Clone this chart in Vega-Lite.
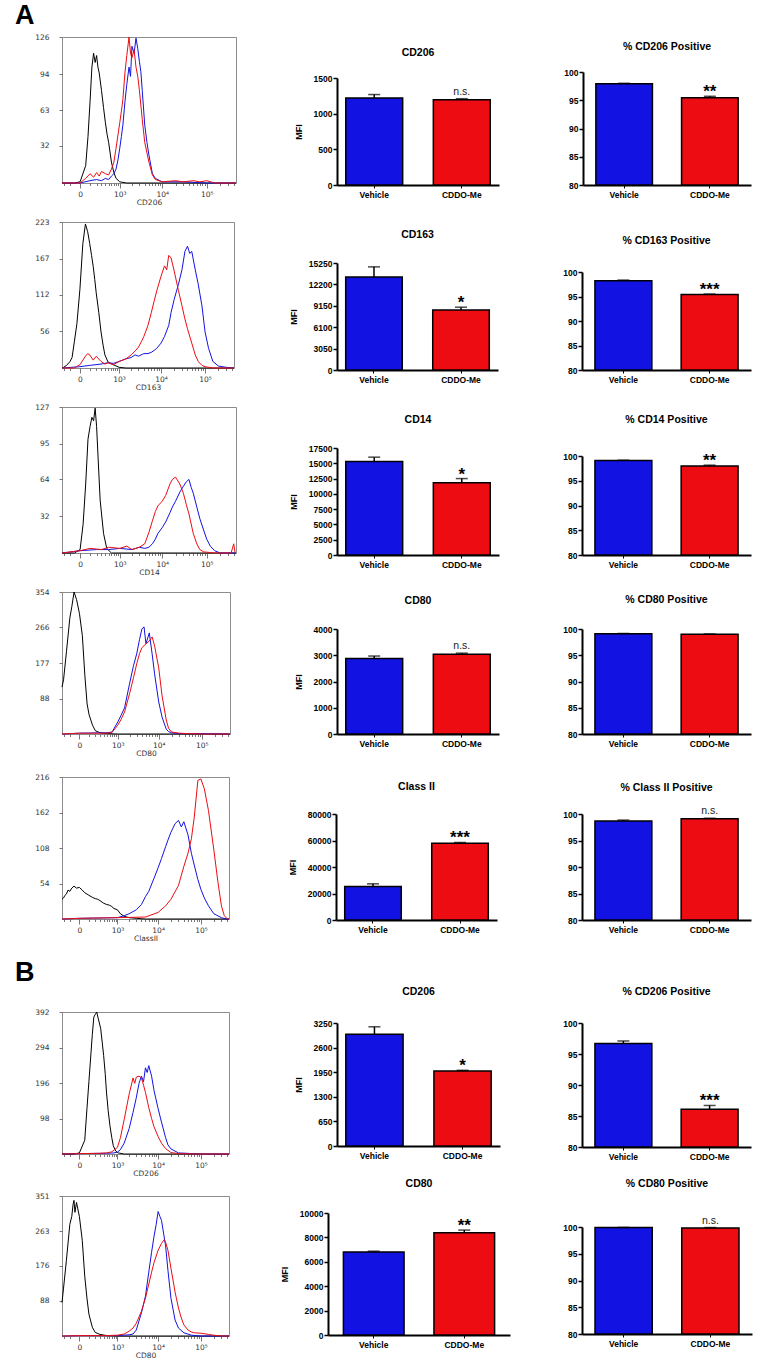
{
"$schema": "https://vega.github.io/schema/vega-lite/v6.json",
"padding": {"left": 15, "top": 1, "right": 5, "bottom": 5},
"background": "white",
"config": {
  "view": {"stroke": null},
  "font": "Liberation Sans",
  "title": {"font": "Liberation Sans", "fontSize": 10.5, "fontWeight": "bold", "color": "black"},
  "axis": {"grid": false, "domainColor": "black", "domainWidth": 2, "tickColor": "black", "tickWidth": 1.5, "tickSize": 4, "labelFont": "Liberation Sans", "labelFontWeight": "bold", "labelFontSize": 8.5, "labelColor": "black", "labelPadding": 1, "titleFont": "Liberation Sans", "titleFontWeight": "bold", "titleFontSize": 9, "titleColor": "black"},
  "line": {"strokeWidth": 1, "clip": true},
  "bar": {"stroke": "black", "strokeWidth": 1.5},
  "rule": {"color": "black", "strokeWidth": 1.5},
  "tick": {"color": "black", "thickness": 1.5}
},
"datasets": {
"bars": [
{"panel":"A_CD206_MFI","group":"Vehicle","value":1220,"upper":1268,"sig":""},
{"panel":"A_CD206_MFI","group":"CDDO-Me","value":1196,"upper":1210,"sig":"n.s."},
{"panel":"A_CD206_PCT","group":"Vehicle","value":97.9,"upper":98.0,"sig":""},
{"panel":"A_CD206_PCT","group":"CDDO-Me","value":95.45,"upper":95.7,"sig":"**"},
{"panel":"A_CD163_MFI","group":"Vehicle","value":13250,"upper":14700,"sig":""},
{"panel":"A_CD163_MFI","group":"CDDO-Me","value":8550,"upper":8950,"sig":"*"},
{"panel":"A_CD163_PCT","group":"Vehicle","value":98.2,"upper":98.35,"sig":""},
{"panel":"A_CD163_PCT","group":"CDDO-Me","value":95.4,"upper":95.5,"sig":"***"},
{"panel":"A_CD14_MFI","group":"Vehicle","value":15300,"upper":16000,"sig":""},
{"panel":"A_CD14_MFI","group":"CDDO-Me","value":11800,"upper":12500,"sig":"*"},
{"panel":"A_CD14_PCT","group":"Vehicle","value":99.1,"upper":99.15,"sig":""},
{"panel":"A_CD14_PCT","group":"CDDO-Me","value":98.0,"upper":98.15,"sig":"**"},
{"panel":"A_CD80_MFI","group":"Vehicle","value":2880,"upper":2970,"sig":""},
{"panel":"A_CD80_MFI","group":"CDDO-Me","value":3040,"upper":3080,"sig":"n.s."},
{"panel":"A_CD80_PCT","group":"Vehicle","value":99.1,"upper":99.15,"sig":""},
{"panel":"A_CD80_PCT","group":"CDDO-Me","value":99.0,"upper":99.05,"sig":""},
{"panel":"A_ClassII_MFI","group":"Vehicle","value":25300,"upper":27300,"sig":""},
{"panel":"A_ClassII_MFI","group":"CDDO-Me","value":58000,"upper":58500,"sig":"***"},
{"panel":"A_ClassII_PCT","group":"Vehicle","value":98.7,"upper":98.85,"sig":""},
{"panel":"A_ClassII_PCT","group":"CDDO-Me","value":99.1,"upper":99.2,"sig":"n.s."},
{"panel":"B_CD206_MFI","group":"Vehicle","value":2950,"upper":3150,"sig":""},
{"panel":"B_CD206_MFI","group":"CDDO-Me","value":1980,"upper":2000,"sig":"*"},
{"panel":"B_CD206_PCT","group":"Vehicle","value":96.7,"upper":97.1,"sig":""},
{"panel":"B_CD206_PCT","group":"CDDO-Me","value":86.1,"upper":86.7,"sig":"***"},
{"panel":"B_CD80_MFI","group":"Vehicle","value":6800,"upper":6870,"sig":""},
{"panel":"B_CD80_MFI","group":"CDDO-Me","value":8380,"upper":8600,"sig":"**"},
{"panel":"B_CD80_PCT","group":"Vehicle","value":99.9,"upper":99.92,"sig":""},
{"panel":"B_CD80_PCT","group":"CDDO-Me","value":99.8,"upper":99.9,"sig":"n.s."}
],
"h1": [
{"series":"Isotype","fluor":-230,"count":0},{"series":"Isotype","fluor":-50,"count":0},{"series":"Isotype","fluor":0,"count":1},{"series":"Isotype","fluor":50,"count":15},{"series":"Isotype","fluor":75,"count":40},{"series":"Isotype","fluor":100,"count":70},{"series":"Isotype","fluor":125,"count":100},{"series":"Isotype","fluor":150,"count":112},{"series":"Isotype","fluor":175,"count":104},{"series":"Isotype","fluor":200,"count":110},{"series":"Isotype","fluor":225,"count":100},{"series":"Isotype","fluor":250,"count":95},{"series":"Isotype","fluor":300,"count":80},{"series":"Isotype","fluor":350,"count":65},{"series":"Isotype","fluor":400,"count":52},{"series":"Isotype","fluor":450,"count":42},{"series":"Isotype","fluor":500,"count":35},{"series":"Isotype","fluor":600,"count":18},{"series":"Isotype","fluor":700,"count":9},{"series":"Isotype","fluor":800,"count":4},{"series":"Isotype","fluor":1000,"count":1},{"series":"Isotype","fluor":1500,"count":0},{"series":"Isotype","fluor":450000,"count":0},
{"series":"Vehicle","fluor":-230,"count":0},{"series":"Vehicle","fluor":0,"count":0},{"series":"Vehicle","fluor":100,"count":2},{"series":"Vehicle","fluor":200,"count":3},{"series":"Vehicle","fluor":300,"count":2},{"series":"Vehicle","fluor":400,"count":4},{"series":"Vehicle","fluor":500,"count":3},{"series":"Vehicle","fluor":600,"count":6},{"series":"Vehicle","fluor":700,"count":8},{"series":"Vehicle","fluor":800,"count":12},{"series":"Vehicle","fluor":900,"count":20},{"series":"Vehicle","fluor":1000,"count":30},{"series":"Vehicle","fluor":1100,"count":40},{"series":"Vehicle","fluor":1200,"count":50},{"series":"Vehicle","fluor":1350,"count":70},{"series":"Vehicle","fluor":1500,"count":85},{"series":"Vehicle","fluor":1700,"count":100},{"series":"Vehicle","fluor":1850,"count":92},{"series":"Vehicle","fluor":2000,"count":118},{"series":"Vehicle","fluor":2250,"count":112},{"series":"Vehicle","fluor":2500,"count":125},{"series":"Vehicle","fluor":2750,"count":116},{"series":"Vehicle","fluor":3000,"count":105},{"series":"Vehicle","fluor":3250,"count":96},{"series":"Vehicle","fluor":3500,"count":80},{"series":"Vehicle","fluor":4000,"count":50},{"series":"Vehicle","fluor":4500,"count":35},{"series":"Vehicle","fluor":5000,"count":24},{"series":"Vehicle","fluor":6000,"count":8},{"series":"Vehicle","fluor":7000,"count":4},{"series":"Vehicle","fluor":10000,"count":1},{"series":"Vehicle","fluor":30000,"count":1},{"series":"Vehicle","fluor":100000,"count":0},{"series":"Vehicle","fluor":450000,"count":0},
{"series":"CDDO-Me","fluor":-230,"count":0},{"series":"CDDO-Me","fluor":0,"count":0},{"series":"CDDO-Me","fluor":50,"count":4},{"series":"CDDO-Me","fluor":100,"count":8},{"series":"CDDO-Me","fluor":150,"count":5},{"series":"CDDO-Me","fluor":200,"count":9},{"series":"CDDO-Me","fluor":250,"count":6},{"series":"CDDO-Me","fluor":300,"count":10},{"series":"CDDO-Me","fluor":400,"count":8},{"series":"CDDO-Me","fluor":500,"count":7},{"series":"CDDO-Me","fluor":600,"count":12},{"series":"CDDO-Me","fluor":700,"count":18},{"series":"CDDO-Me","fluor":800,"count":30},{"series":"CDDO-Me","fluor":1000,"count":52},{"series":"CDDO-Me","fluor":1100,"count":62},{"series":"CDDO-Me","fluor":1200,"count":72},{"series":"CDDO-Me","fluor":1350,"count":95},{"series":"CDDO-Me","fluor":1500,"count":110},{"series":"CDDO-Me","fluor":1700,"count":126},{"series":"CDDO-Me","fluor":1850,"count":112},{"series":"CDDO-Me","fluor":2000,"count":108},{"series":"CDDO-Me","fluor":2250,"count":115},{"series":"CDDO-Me","fluor":2500,"count":100},{"series":"CDDO-Me","fluor":2750,"count":92},{"series":"CDDO-Me","fluor":3000,"count":80},{"series":"CDDO-Me","fluor":3500,"count":55},{"series":"CDDO-Me","fluor":4000,"count":35},{"series":"CDDO-Me","fluor":5000,"count":18},{"series":"CDDO-Me","fluor":6000,"count":7},{"series":"CDDO-Me","fluor":7000,"count":3},{"series":"CDDO-Me","fluor":10000,"count":1},{"series":"CDDO-Me","fluor":20000,"count":2},{"series":"CDDO-Me","fluor":30000,"count":1},{"series":"CDDO-Me","fluor":50000,"count":2},{"series":"CDDO-Me","fluor":70000,"count":1},{"series":"CDDO-Me","fluor":100000,"count":2},{"series":"CDDO-Me","fluor":150000,"count":0},{"series":"CDDO-Me","fluor":450000,"count":0}
],
"h2": [
{"series":"Isotype","fluor":-230,"count":0},{"series":"Isotype","fluor":-200,"count":1},{"series":"Isotype","fluor":-150,"count":4},{"series":"Isotype","fluor":-100,"count":10},{"series":"Isotype","fluor":-75,"count":16},{"series":"Isotype","fluor":-50,"count":40},{"series":"Isotype","fluor":-25,"count":68},{"series":"Isotype","fluor":0,"count":120},{"series":"Isotype","fluor":25,"count":190},{"series":"Isotype","fluor":50,"count":220},{"series":"Isotype","fluor":75,"count":208},{"series":"Isotype","fluor":100,"count":190},{"series":"Isotype","fluor":125,"count":172},{"series":"Isotype","fluor":150,"count":155},{"series":"Isotype","fluor":175,"count":135},{"series":"Isotype","fluor":200,"count":115},{"series":"Isotype","fluor":250,"count":85},{"series":"Isotype","fluor":300,"count":55},{"series":"Isotype","fluor":350,"count":35},{"series":"Isotype","fluor":400,"count":20},{"series":"Isotype","fluor":500,"count":9},{"series":"Isotype","fluor":700,"count":5},{"series":"Isotype","fluor":1000,"count":1},{"series":"Isotype","fluor":1500,"count":0},{"series":"Isotype","fluor":450000,"count":0},
{"series":"Vehicle","fluor":-230,"count":0},{"series":"Vehicle","fluor":0,"count":2},{"series":"Vehicle","fluor":100,"count":4},{"series":"Vehicle","fluor":300,"count":6},{"series":"Vehicle","fluor":500,"count":8},{"series":"Vehicle","fluor":700,"count":7},{"series":"Vehicle","fluor":1000,"count":10},{"series":"Vehicle","fluor":1500,"count":14},{"series":"Vehicle","fluor":2000,"count":16},{"series":"Vehicle","fluor":2500,"count":20},{"series":"Vehicle","fluor":3000,"count":18},{"series":"Vehicle","fluor":4000,"count":22},{"series":"Vehicle","fluor":5000,"count":22},{"series":"Vehicle","fluor":6000,"count":24},{"series":"Vehicle","fluor":7000,"count":27},{"series":"Vehicle","fluor":8000,"count":30},{"series":"Vehicle","fluor":10000,"count":38},{"series":"Vehicle","fluor":12000,"count":48},{"series":"Vehicle","fluor":15000,"count":65},{"series":"Vehicle","fluor":17000,"count":85},{"series":"Vehicle","fluor":20000,"count":105},{"series":"Vehicle","fluor":25000,"count":128},{"series":"Vehicle","fluor":30000,"count":150},{"series":"Vehicle","fluor":35000,"count":178},{"series":"Vehicle","fluor":40000,"count":186},{"series":"Vehicle","fluor":45000,"count":175},{"series":"Vehicle","fluor":50000,"count":178},{"series":"Vehicle","fluor":60000,"count":150},{"series":"Vehicle","fluor":70000,"count":128},{"series":"Vehicle","fluor":85000,"count":95},{"series":"Vehicle","fluor":100000,"count":55},{"series":"Vehicle","fluor":120000,"count":30},{"series":"Vehicle","fluor":150000,"count":10},{"series":"Vehicle","fluor":200000,"count":3},{"series":"Vehicle","fluor":300000,"count":1},{"series":"Vehicle","fluor":450000,"count":0},
{"series":"CDDO-Me","fluor":-230,"count":0},{"series":"CDDO-Me","fluor":-50,"count":0},{"series":"CDDO-Me","fluor":0,"count":5},{"series":"CDDO-Me","fluor":50,"count":18},{"series":"CDDO-Me","fluor":75,"count":22},{"series":"CDDO-Me","fluor":100,"count":20},{"series":"CDDO-Me","fluor":150,"count":12},{"series":"CDDO-Me","fluor":200,"count":18},{"series":"CDDO-Me","fluor":300,"count":10},{"series":"CDDO-Me","fluor":400,"count":6},{"series":"CDDO-Me","fluor":500,"count":8},{"series":"CDDO-Me","fluor":700,"count":5},{"series":"CDDO-Me","fluor":1000,"count":10},{"series":"CDDO-Me","fluor":1500,"count":14},{"series":"CDDO-Me","fluor":2000,"count":20},{"series":"CDDO-Me","fluor":2500,"count":26},{"series":"CDDO-Me","fluor":3000,"count":32},{"series":"CDDO-Me","fluor":3500,"count":40},{"series":"CDDO-Me","fluor":4000,"count":48},{"series":"CDDO-Me","fluor":5000,"count":65},{"series":"CDDO-Me","fluor":6000,"count":85},{"series":"CDDO-Me","fluor":7000,"count":103},{"series":"CDDO-Me","fluor":8000,"count":118},{"series":"CDDO-Me","fluor":10000,"count":140},{"series":"CDDO-Me","fluor":12000,"count":156},{"series":"CDDO-Me","fluor":13500,"count":150},{"series":"CDDO-Me","fluor":15000,"count":172},{"series":"CDDO-Me","fluor":17000,"count":168},{"series":"CDDO-Me","fluor":20000,"count":148},{"series":"CDDO-Me","fluor":25000,"count":118},{"series":"CDDO-Me","fluor":30000,"count":95},{"series":"CDDO-Me","fluor":35000,"count":75},{"series":"CDDO-Me","fluor":40000,"count":60},{"series":"CDDO-Me","fluor":50000,"count":38},{"series":"CDDO-Me","fluor":60000,"count":20},{"series":"CDDO-Me","fluor":70000,"count":10},{"series":"CDDO-Me","fluor":85000,"count":4},{"series":"CDDO-Me","fluor":100000,"count":2},{"series":"CDDO-Me","fluor":150000,"count":0},{"series":"CDDO-Me","fluor":450000,"count":0}
],
"h3": [
{"series":"Isotype","fluor":-230,"count":0},{"series":"Isotype","fluor":-50,"count":0},{"series":"Isotype","fluor":0,"count":3},{"series":"Isotype","fluor":25,"count":25},{"series":"Isotype","fluor":50,"count":60},{"series":"Isotype","fluor":75,"count":99},{"series":"Isotype","fluor":100,"count":110},{"series":"Isotype","fluor":125,"count":118},{"series":"Isotype","fluor":150,"count":115},{"series":"Isotype","fluor":175,"count":126},{"series":"Isotype","fluor":200,"count":110},{"series":"Isotype","fluor":230,"count":81},{"series":"Isotype","fluor":270,"count":46},{"series":"Isotype","fluor":350,"count":17},{"series":"Isotype","fluor":440,"count":4},{"series":"Isotype","fluor":600,"count":0},{"series":"Isotype","fluor":450000,"count":0},
{"series":"Vehicle","fluor":-230,"count":0},{"series":"Vehicle","fluor":0,"count":2},{"series":"Vehicle","fluor":200,"count":3},{"series":"Vehicle","fluor":500,"count":3},{"series":"Vehicle","fluor":1000,"count":4},{"series":"Vehicle","fluor":2000,"count":3},{"series":"Vehicle","fluor":3000,"count":5},{"series":"Vehicle","fluor":4000,"count":4},{"series":"Vehicle","fluor":5000,"count":5},{"series":"Vehicle","fluor":6000,"count":8},{"series":"Vehicle","fluor":7000,"count":12},{"series":"Vehicle","fluor":8000,"count":17},{"series":"Vehicle","fluor":10000,"count":22},{"series":"Vehicle","fluor":12000,"count":27},{"series":"Vehicle","fluor":15000,"count":35},{"series":"Vehicle","fluor":17000,"count":40},{"series":"Vehicle","fluor":20000,"count":45},{"series":"Vehicle","fluor":25000,"count":53},{"series":"Vehicle","fluor":30000,"count":58},{"series":"Vehicle","fluor":35000,"count":62},{"series":"Vehicle","fluor":40000,"count":64},{"series":"Vehicle","fluor":45000,"count":57},{"series":"Vehicle","fluor":50000,"count":52},{"series":"Vehicle","fluor":60000,"count":40},{"series":"Vehicle","fluor":70000,"count":30},{"series":"Vehicle","fluor":85000,"count":20},{"series":"Vehicle","fluor":100000,"count":12},{"series":"Vehicle","fluor":120000,"count":6},{"series":"Vehicle","fluor":150000,"count":2},{"series":"Vehicle","fluor":200000,"count":0},{"series":"Vehicle","fluor":450000,"count":0},
{"series":"CDDO-Me","fluor":-230,"count":0},{"series":"CDDO-Me","fluor":0,"count":2},{"series":"CDDO-Me","fluor":100,"count":4},{"series":"CDDO-Me","fluor":300,"count":3},{"series":"CDDO-Me","fluor":500,"count":5},{"series":"CDDO-Me","fluor":1000,"count":4},{"series":"CDDO-Me","fluor":1500,"count":6},{"series":"CDDO-Me","fluor":2000,"count":3},{"series":"CDDO-Me","fluor":3000,"count":5},{"series":"CDDO-Me","fluor":4000,"count":8},{"series":"CDDO-Me","fluor":5000,"count":18},{"series":"CDDO-Me","fluor":6000,"count":28},{"series":"CDDO-Me","fluor":7000,"count":36},{"series":"CDDO-Me","fluor":8000,"count":41},{"series":"CDDO-Me","fluor":10000,"count":45},{"series":"CDDO-Me","fluor":12000,"count":50},{"series":"CDDO-Me","fluor":15000,"count":60},{"series":"CDDO-Me","fluor":17000,"count":64},{"series":"CDDO-Me","fluor":20000,"count":66},{"series":"CDDO-Me","fluor":25000,"count":60},{"series":"CDDO-Me","fluor":30000,"count":52},{"series":"CDDO-Me","fluor":35000,"count":42},{"series":"CDDO-Me","fluor":40000,"count":34},{"series":"CDDO-Me","fluor":50000,"count":17},{"series":"CDDO-Me","fluor":60000,"count":8},{"series":"CDDO-Me","fluor":70000,"count":3},{"series":"CDDO-Me","fluor":85000,"count":1},{"series":"CDDO-Me","fluor":150000,"count":0},{"series":"CDDO-Me","fluor":350000,"count":0},{"series":"CDDO-Me","fluor":400000,"count":8},{"series":"CDDO-Me","fluor":430000,"count":0}
],
"h4": [
{"series":"Isotype","fluor":-230,"count":117},{"series":"Isotype","fluor":-200,"count":135},{"series":"Isotype","fluor":-150,"count":205},{"series":"Isotype","fluor":-100,"count":290},{"series":"Isotype","fluor":-75,"count":318},{"series":"Isotype","fluor":-50,"count":354},{"series":"Isotype","fluor":-25,"count":335},{"series":"Isotype","fluor":0,"count":300},{"series":"Isotype","fluor":25,"count":245},{"series":"Isotype","fluor":50,"count":145},{"series":"Isotype","fluor":75,"count":75},{"series":"Isotype","fluor":100,"count":48},{"series":"Isotype","fluor":150,"count":22},{"series":"Isotype","fluor":200,"count":8},{"series":"Isotype","fluor":300,"count":3},{"series":"Isotype","fluor":500,"count":1},{"series":"Isotype","fluor":1000,"count":0},{"series":"Isotype","fluor":450000,"count":0},
{"series":"Vehicle","fluor":-230,"count":0},{"series":"Vehicle","fluor":0,"count":2},{"series":"Vehicle","fluor":300,"count":3},{"series":"Vehicle","fluor":500,"count":3},{"series":"Vehicle","fluor":700,"count":5},{"series":"Vehicle","fluor":1000,"count":30},{"series":"Vehicle","fluor":1200,"count":45},{"series":"Vehicle","fluor":1500,"count":65},{"series":"Vehicle","fluor":2000,"count":125},{"series":"Vehicle","fluor":2500,"count":170},{"series":"Vehicle","fluor":3000,"count":200},{"series":"Vehicle","fluor":3500,"count":235},{"series":"Vehicle","fluor":4000,"count":262},{"series":"Vehicle","fluor":4500,"count":267},{"series":"Vehicle","fluor":5000,"count":225},{"series":"Vehicle","fluor":6000,"count":252},{"series":"Vehicle","fluor":7000,"count":200},{"series":"Vehicle","fluor":8000,"count":150},{"series":"Vehicle","fluor":10000,"count":80},{"series":"Vehicle","fluor":12000,"count":42},{"series":"Vehicle","fluor":15000,"count":12},{"series":"Vehicle","fluor":17000,"count":6},{"series":"Vehicle","fluor":20000,"count":3},{"series":"Vehicle","fluor":30000,"count":1},{"series":"Vehicle","fluor":100000,"count":1},{"series":"Vehicle","fluor":450000,"count":0},
{"series":"CDDO-Me","fluor":-230,"count":0},{"series":"CDDO-Me","fluor":0,"count":2},{"series":"CDDO-Me","fluor":300,"count":2},{"series":"CDDO-Me","fluor":500,"count":2},{"series":"CDDO-Me","fluor":700,"count":4},{"series":"CDDO-Me","fluor":1000,"count":22},{"series":"CDDO-Me","fluor":1200,"count":35},{"series":"CDDO-Me","fluor":1500,"count":55},{"series":"CDDO-Me","fluor":2000,"count":100},{"series":"CDDO-Me","fluor":2500,"count":140},{"series":"CDDO-Me","fluor":3000,"count":175},{"series":"CDDO-Me","fluor":3500,"count":200},{"series":"CDDO-Me","fluor":4000,"count":215},{"series":"CDDO-Me","fluor":5000,"count":225},{"series":"CDDO-Me","fluor":6000,"count":232},{"series":"CDDO-Me","fluor":7000,"count":242},{"series":"CDDO-Me","fluor":8000,"count":220},{"series":"CDDO-Me","fluor":10000,"count":165},{"series":"CDDO-Me","fluor":12000,"count":95},{"series":"CDDO-Me","fluor":15000,"count":35},{"series":"CDDO-Me","fluor":17000,"count":14},{"series":"CDDO-Me","fluor":20000,"count":5},{"series":"CDDO-Me","fluor":30000,"count":2},{"series":"CDDO-Me","fluor":50000,"count":1},{"series":"CDDO-Me","fluor":100000,"count":0},{"series":"CDDO-Me","fluor":450000,"count":0}
],
"h5": [
{"series":"Isotype","fluor":-230,"count":30},{"series":"Isotype","fluor":-200,"count":32},{"series":"Isotype","fluor":-175,"count":36},{"series":"Isotype","fluor":-150,"count":38},{"series":"Isotype","fluor":-125,"count":44},{"series":"Isotype","fluor":-100,"count":42},{"series":"Isotype","fluor":-75,"count":47},{"series":"Isotype","fluor":-50,"count":50},{"series":"Isotype","fluor":-25,"count":47},{"series":"Isotype","fluor":0,"count":48},{"series":"Isotype","fluor":25,"count":44},{"series":"Isotype","fluor":50,"count":40},{"series":"Isotype","fluor":75,"count":38},{"series":"Isotype","fluor":100,"count":36},{"series":"Isotype","fluor":150,"count":33},{"series":"Isotype","fluor":200,"count":31},{"series":"Isotype","fluor":250,"count":30},{"series":"Isotype","fluor":300,"count":28},{"series":"Isotype","fluor":400,"count":24},{"series":"Isotype","fluor":500,"count":22},{"series":"Isotype","fluor":600,"count":21},{"series":"Isotype","fluor":700,"count":19},{"series":"Isotype","fluor":800,"count":16},{"series":"Isotype","fluor":1000,"count":14},{"series":"Isotype","fluor":1200,"count":8},{"series":"Isotype","fluor":1500,"count":4},{"series":"Isotype","fluor":2000,"count":2},{"series":"Isotype","fluor":3000,"count":1},{"series":"Isotype","fluor":5000,"count":0},{"series":"Isotype","fluor":450000,"count":0},
{"series":"Vehicle","fluor":-230,"count":0},{"series":"Vehicle","fluor":0,"count":1},{"series":"Vehicle","fluor":1000,"count":2},{"series":"Vehicle","fluor":1500,"count":5},{"series":"Vehicle","fluor":2000,"count":8},{"series":"Vehicle","fluor":3000,"count":14},{"series":"Vehicle","fluor":4000,"count":22},{"series":"Vehicle","fluor":5000,"count":34},{"series":"Vehicle","fluor":6000,"count":42},{"series":"Vehicle","fluor":8000,"count":62},{"series":"Vehicle","fluor":10000,"count":78},{"series":"Vehicle","fluor":12000,"count":92},{"series":"Vehicle","fluor":15000,"count":110},{"series":"Vehicle","fluor":17000,"count":120},{"series":"Vehicle","fluor":20000,"count":132},{"series":"Vehicle","fluor":25000,"count":145},{"series":"Vehicle","fluor":30000,"count":150},{"series":"Vehicle","fluor":35000,"count":140},{"series":"Vehicle","fluor":40000,"count":148},{"series":"Vehicle","fluor":50000,"count":128},{"series":"Vehicle","fluor":60000,"count":100},{"series":"Vehicle","fluor":70000,"count":82},{"series":"Vehicle","fluor":85000,"count":60},{"series":"Vehicle","fluor":100000,"count":45},{"series":"Vehicle","fluor":120000,"count":32},{"series":"Vehicle","fluor":150000,"count":20},{"series":"Vehicle","fluor":200000,"count":8},{"series":"Vehicle","fluor":300000,"count":2},{"series":"Vehicle","fluor":400000,"count":0},{"series":"Vehicle","fluor":450000,"count":0},
{"series":"CDDO-Me","fluor":-230,"count":0},{"series":"CDDO-Me","fluor":0,"count":1},{"series":"CDDO-Me","fluor":1000,"count":2},{"series":"CDDO-Me","fluor":5000,"count":3},{"series":"CDDO-Me","fluor":10000,"count":10},{"series":"CDDO-Me","fluor":15000,"count":20},{"series":"CDDO-Me","fluor":20000,"count":30},{"series":"CDDO-Me","fluor":30000,"count":51},{"series":"CDDO-Me","fluor":40000,"count":80},{"series":"CDDO-Me","fluor":50000,"count":100},{"series":"CDDO-Me","fluor":60000,"count":122},{"series":"CDDO-Me","fluor":70000,"count":155},{"series":"CDDO-Me","fluor":85000,"count":211},{"series":"CDDO-Me","fluor":100000,"count":213},{"series":"CDDO-Me","fluor":120000,"count":198},{"series":"CDDO-Me","fluor":150000,"count":165},{"series":"CDDO-Me","fluor":200000,"count":105},{"series":"CDDO-Me","fluor":250000,"count":55},{"series":"CDDO-Me","fluor":300000,"count":20},{"series":"CDDO-Me","fluor":350000,"count":5},{"series":"CDDO-Me","fluor":400000,"count":1},{"series":"CDDO-Me","fluor":450000,"count":0}
],
"h6": [
{"series":"Isotype","fluor":-230,"count":0},{"series":"Isotype","fluor":-50,"count":0},{"series":"Isotype","fluor":0,"count":3},{"series":"Isotype","fluor":50,"count":38},{"series":"Isotype","fluor":75,"count":125},{"series":"Isotype","fluor":100,"count":200},{"series":"Isotype","fluor":130,"count":281},{"series":"Isotype","fluor":150,"count":330},{"series":"Isotype","fluor":175,"count":378},{"series":"Isotype","fluor":200,"count":385},{"series":"Isotype","fluor":230,"count":392},{"series":"Isotype","fluor":260,"count":375},{"series":"Isotype","fluor":320,"count":346},{"series":"Isotype","fluor":400,"count":272},{"series":"Isotype","fluor":450,"count":220},{"series":"Isotype","fluor":490,"count":171},{"series":"Isotype","fluor":550,"count":120},{"series":"Isotype","fluor":620,"count":78},{"series":"Isotype","fluor":700,"count":45},{"series":"Isotype","fluor":770,"count":23},{"series":"Isotype","fluor":900,"count":8},{"series":"Isotype","fluor":1050,"count":3},{"series":"Isotype","fluor":1500,"count":0},{"series":"Isotype","fluor":450000,"count":0},
{"series":"Vehicle","fluor":-230,"count":0},{"series":"Vehicle","fluor":0,"count":1},{"series":"Vehicle","fluor":500,"count":2},{"series":"Vehicle","fluor":800,"count":3},{"series":"Vehicle","fluor":1000,"count":5},{"series":"Vehicle","fluor":1200,"count":12},{"series":"Vehicle","fluor":1500,"count":30},{"series":"Vehicle","fluor":2000,"count":70},{"series":"Vehicle","fluor":2500,"count":115},{"series":"Vehicle","fluor":3000,"count":155},{"series":"Vehicle","fluor":3500,"count":195},{"series":"Vehicle","fluor":4000,"count":215},{"series":"Vehicle","fluor":4500,"count":200},{"series":"Vehicle","fluor":5000,"count":238},{"series":"Vehicle","fluor":5500,"count":225},{"series":"Vehicle","fluor":6000,"count":244},{"series":"Vehicle","fluor":7000,"count":215},{"series":"Vehicle","fluor":8000,"count":175},{"series":"Vehicle","fluor":10000,"count":125},{"series":"Vehicle","fluor":12000,"count":88},{"series":"Vehicle","fluor":15000,"count":45},{"series":"Vehicle","fluor":17000,"count":25},{"series":"Vehicle","fluor":20000,"count":14},{"series":"Vehicle","fluor":30000,"count":3},{"series":"Vehicle","fluor":100000,"count":0},{"series":"Vehicle","fluor":450000,"count":0},
{"series":"CDDO-Me","fluor":-230,"count":0},{"series":"CDDO-Me","fluor":0,"count":1},{"series":"CDDO-Me","fluor":300,"count":2},{"series":"CDDO-Me","fluor":500,"count":3},{"series":"CDDO-Me","fluor":700,"count":6},{"series":"CDDO-Me","fluor":1000,"count":18},{"series":"CDDO-Me","fluor":1200,"count":45},{"series":"CDDO-Me","fluor":1500,"count":95},{"series":"CDDO-Me","fluor":2000,"count":165},{"series":"CDDO-Me","fluor":2500,"count":210},{"series":"CDDO-Me","fluor":2750,"count":195},{"series":"CDDO-Me","fluor":3000,"count":212},{"series":"CDDO-Me","fluor":3500,"count":215},{"series":"CDDO-Me","fluor":4000,"count":210},{"series":"CDDO-Me","fluor":4500,"count":190},{"series":"CDDO-Me","fluor":5000,"count":170},{"series":"CDDO-Me","fluor":6000,"count":128},{"series":"CDDO-Me","fluor":7000,"count":98},{"series":"CDDO-Me","fluor":8000,"count":75},{"series":"CDDO-Me","fluor":10000,"count":48},{"series":"CDDO-Me","fluor":12000,"count":30},{"series":"CDDO-Me","fluor":15000,"count":15},{"series":"CDDO-Me","fluor":20000,"count":4},{"series":"CDDO-Me","fluor":30000,"count":1},{"series":"CDDO-Me","fluor":100000,"count":0},{"series":"CDDO-Me","fluor":450000,"count":0}
],
"h7": [
{"series":"Isotype","fluor":-230,"count":84},{"series":"Isotype","fluor":-200,"count":120},{"series":"Isotype","fluor":-150,"count":190},{"series":"Isotype","fluor":-100,"count":280},{"series":"Isotype","fluor":-75,"count":300},{"series":"Isotype","fluor":-60,"count":330},{"series":"Isotype","fluor":-50,"count":340},{"series":"Isotype","fluor":-40,"count":310},{"series":"Isotype","fluor":-25,"count":335},{"series":"Isotype","fluor":0,"count":300},{"series":"Isotype","fluor":25,"count":240},{"series":"Isotype","fluor":50,"count":150},{"series":"Isotype","fluor":75,"count":95},{"series":"Isotype","fluor":100,"count":55},{"series":"Isotype","fluor":150,"count":22},{"series":"Isotype","fluor":200,"count":9},{"series":"Isotype","fluor":300,"count":4},{"series":"Isotype","fluor":500,"count":1},{"series":"Isotype","fluor":1000,"count":0},{"series":"Isotype","fluor":450000,"count":0},
{"series":"Vehicle","fluor":-230,"count":0},{"series":"Vehicle","fluor":0,"count":1},{"series":"Vehicle","fluor":1000,"count":1},{"series":"Vehicle","fluor":2000,"count":3},{"series":"Vehicle","fluor":2500,"count":5},{"series":"Vehicle","fluor":3000,"count":15},{"series":"Vehicle","fluor":4000,"count":58},{"series":"Vehicle","fluor":5000,"count":100},{"series":"Vehicle","fluor":6000,"count":160},{"series":"Vehicle","fluor":7000,"count":210},{"series":"Vehicle","fluor":8000,"count":250},{"series":"Vehicle","fluor":9000,"count":280},{"series":"Vehicle","fluor":10000,"count":312},{"series":"Vehicle","fluor":11000,"count":300},{"series":"Vehicle","fluor":12000,"count":290},{"series":"Vehicle","fluor":15000,"count":226},{"series":"Vehicle","fluor":17000,"count":165},{"series":"Vehicle","fluor":20000,"count":95},{"series":"Vehicle","fluor":25000,"count":40},{"series":"Vehicle","fluor":30000,"count":20},{"series":"Vehicle","fluor":40000,"count":8},{"series":"Vehicle","fluor":60000,"count":2},{"series":"Vehicle","fluor":100000,"count":0},{"series":"Vehicle","fluor":450000,"count":0},
{"series":"CDDO-Me","fluor":-230,"count":0},{"series":"CDDO-Me","fluor":0,"count":1},{"series":"CDDO-Me","fluor":500,"count":1},{"series":"CDDO-Me","fluor":1000,"count":2},{"series":"CDDO-Me","fluor":1500,"count":5},{"series":"CDDO-Me","fluor":2000,"count":12},{"series":"CDDO-Me","fluor":2500,"count":20},{"series":"CDDO-Me","fluor":3000,"count":32},{"series":"CDDO-Me","fluor":4000,"count":62},{"series":"CDDO-Me","fluor":5000,"count":95},{"series":"CDDO-Me","fluor":6000,"count":130},{"series":"CDDO-Me","fluor":7000,"count":160},{"series":"CDDO-Me","fluor":8000,"count":184},{"series":"CDDO-Me","fluor":10000,"count":215},{"series":"CDDO-Me","fluor":12000,"count":232},{"series":"CDDO-Me","fluor":14000,"count":242},{"series":"CDDO-Me","fluor":15000,"count":235},{"series":"CDDO-Me","fluor":17000,"count":215},{"series":"CDDO-Me","fluor":20000,"count":170},{"series":"CDDO-Me","fluor":25000,"count":110},{"series":"CDDO-Me","fluor":30000,"count":70},{"series":"CDDO-Me","fluor":35000,"count":45},{"series":"CDDO-Me","fluor":40000,"count":28},{"series":"CDDO-Me","fluor":50000,"count":15},{"series":"CDDO-Me","fluor":60000,"count":10},{"series":"CDDO-Me","fluor":70000,"count":8},{"series":"CDDO-Me","fluor":100000,"count":7},{"series":"CDDO-Me","fluor":150000,"count":4},{"series":"CDDO-Me","fluor":200000,"count":2},{"series":"CDDO-Me","fluor":300000,"count":0},{"series":"CDDO-Me","fluor":450000,"count":0}
]
},
"bounds": "flush",
"spacing": 975,
"vconcat": [
{
"title": {"text": "A", "anchor": "start", "frame": "group", "dx": -47, "offset": 3, "fontSize": 27, "font": "Liberation Sans", "fontWeight": "bold"},
"bounds": "flush",
"spacing": 185,
"vconcat": [
{"bounds": "flush", "spacing": 101, "hconcat": [
 {"width": 174, "height": 146, "view": {"stroke": "#8c8c8c"}, "data": {"name": "h1"}, "mark": "line",
  "encoding": {
   "x": {"field": "fluor", "type": "quantitative", "title": "CD206", "scale": {"type": "symlog", "constant": 150, "domain": [-230, 450000], "nice": false, "zero": false}, "axis": {"values": [-200,-100,0,100,200,300,400,500,600,700,800,900,1000,2000,3000,4000,5000,6000,7000,8000,9000,10000,20000,30000,40000,50000,60000,70000,80000,90000,100000,200000,300000,400000], "labelExpr": "datum.value === 0 ? '0' : datum.value === 1000 ? '10³' : datum.value === 10000 ? '10⁴' : datum.value === 100000 ? '10⁵' : ''", "domain": false, "tickColor": "#555", "tickWidth": 0.8, "tickSize": {"condition": {"test": "datum.value === 0 || datum.value === 1000 || datum.value === 10000 || datum.value === 100000", "value": 5}, "value": 2.5}, "labelFont": "DejaVu Sans", "labelFontWeight": "normal", "labelFontSize": 7.5, "labelColor": "#333", "labelPadding": 2, "labelOverlap": false, "labelFlush": false, "titleFont": "DejaVu Sans", "titleFontWeight": "normal", "titleFontSize": 7.5, "titleColor": "#333", "titlePadding": 1}},
   "y": {"field": "count", "type": "quantitative", "title": null, "scale": {"domain": [0, 126], "nice": false}, "axis": {"values": [32, 63, 94, 126], "domain": false, "tickColor": "#555", "tickWidth": 0.8, "tickSize": 3, "labelFont": "DejaVu Sans", "labelFontWeight": "normal", "labelFontSize": 7.5, "labelColor": "#333", "labelPadding": 10, "labelFlush": false, "labelOverlap": false}},
   "color": {"field": "series", "type": "nominal", "scale": {"domain": ["Isotype", "Vehicle", "CDDO-Me"], "range": ["#000000", "#1212e2", "#ec0c12"]}, "legend": null}
  }},
 {"bounds": "flush", "spacing": 84, "hconcat": [
  {"width": 162, "height": 148, "title": {"text": "CD206", "offset": -21.5}, "data": {"name": "bars"}, "transform": [{"filter": "datum.panel == 'A_CD206_MFI'"}],
   "encoding": {"x": {"field": "group", "type": "nominal", "sort": ["Vehicle", "CDDO-Me"], "scale": {"paddingInner": 0.35, "paddingOuter": 0.1}, "axis": {"title": null, "labelAngle": 0, "tickSize": 3, "tickWidth": 1, "labelPadding": 2}},
    "y": {"field": "value", "type": "quantitative", "title": "MFI", "scale": {"domain": [0, 1500], "range": [148, 41], "nice": false, "zero": false}, "axis": {"values": [0, 500, 1000, 1500], "format": "d", "titlePadding": 10}}},
   "layer": [
    {"mark": "bar", "encoding": {"color": {"field": "group", "type": "nominal", "scale": {"domain": ["Isotype", "Vehicle", "CDDO-Me"], "range": ["#000000", "#1212e2", "#ec0c12"]}, "legend": null}}},
    {"mark": "rule", "encoding": {"y2": {"field": "upper"}}},
    {"mark": {"type": "tick", "size": 12}, "encoding": {"y": {"field": "upper", "type": "quantitative", "title": "MFI", "scale": {"domain": [0, 1500], "range": [148, 41], "nice": false, "zero": false}}}},
    {"transform": [{"filter": "datum.sig == 'n.s.'"}], "mark": {"type": "text", "fontSize": 10.5, "color": "#222", "baseline": "alphabetic", "dy": -4}, "encoding": {"y": {"field": "upper", "type": "quantitative", "title": "MFI", "scale": {"domain": [0, 1500], "range": [148, 41], "nice": false, "zero": false}}, "text": {"field": "sig"}}},
    {"transform": [{"filter": "datum.sig != 'n.s.' && datum.sig != ''"}], "mark": {"type": "text", "fontWeight": "bold", "fontSize": 17, "color": "black", "baseline": "alphabetic", "dy": 1}, "encoding": {"y": {"field": "upper", "type": "quantitative", "title": "MFI", "scale": {"domain": [0, 1500], "range": [148, 41], "nice": false, "zero": false}}, "text": {"field": "sig"}}}
   ]},
  {"width": 168, "height": 148, "title": {"text": "% CD206 Positive", "offset": -15.5}, "data": {"name": "bars"}, "transform": [{"filter": "datum.panel == 'A_CD206_PCT'"}],
   "encoding": {"x": {"field": "group", "type": "nominal", "sort": ["Vehicle", "CDDO-Me"], "scale": {"paddingInner": 0.34, "paddingOuter": 0.15}, "axis": {"title": null, "labelAngle": 0, "tickSize": 3, "tickWidth": 1, "labelPadding": 2}},
    "y": {"field": "value", "type": "quantitative", "title": null, "scale": {"domain": [80, 100], "range": [148, 35], "nice": false, "zero": false}, "axis": {"values": [80, 85, 90, 95, 100], "format": "d"}}},
   "layer": [
    {"mark": "bar", "encoding": {"y2": {"datum": 80}, "color": {"field": "group", "type": "nominal", "scale": {"domain": ["Isotype", "Vehicle", "CDDO-Me"], "range": ["#000000", "#1212e2", "#ec0c12"]}, "legend": null}}},
    {"mark": "rule", "encoding": {"y2": {"field": "upper"}}},
    {"mark": {"type": "tick", "size": 12}, "encoding": {"y": {"field": "upper", "type": "quantitative", "title": null, "scale": {"domain": [80, 100], "range": [148, 35], "nice": false, "zero": false}}}},
    {"transform": [{"filter": "datum.sig == 'n.s.'"}], "mark": {"type": "text", "fontSize": 10.5, "color": "#222", "baseline": "alphabetic", "dy": -4}, "encoding": {"y": {"field": "upper", "type": "quantitative", "title": null, "scale": {"domain": [80, 100], "range": [148, 35], "nice": false, "zero": false}}, "text": {"field": "sig"}}},
    {"transform": [{"filter": "datum.sig != 'n.s.' && datum.sig != ''"}], "mark": {"type": "text", "fontWeight": "bold", "fontSize": 17, "color": "black", "baseline": "alphabetic", "dy": 1}, "encoding": {"y": {"field": "upper", "type": "quantitative", "title": null, "scale": {"domain": [80, 100], "range": [148, 35], "nice": false, "zero": false}}, "text": {"field": "sig"}}}
   ]}
 ]}
]},
{"bounds": "flush", "spacing": 103, "hconcat": [
 {"width": 172, "height": 146, "view": {"stroke": "#8c8c8c"}, "data": {"name": "h2"}, "mark": "line",
  "encoding": {
   "x": {"field": "fluor", "type": "quantitative", "title": "CD163", "scale": {"type": "symlog", "constant": 150, "domain": [-230, 450000], "nice": false, "zero": false}, "axis": {"values": [-200,-100,0,100,200,300,400,500,600,700,800,900,1000,2000,3000,4000,5000,6000,7000,8000,9000,10000,20000,30000,40000,50000,60000,70000,80000,90000,100000,200000,300000,400000], "labelExpr": "datum.value === 0 ? '0' : datum.value === 1000 ? '10³' : datum.value === 10000 ? '10⁴' : datum.value === 100000 ? '10⁵' : ''", "domain": false, "tickColor": "#555", "tickWidth": 0.8, "tickSize": {"condition": {"test": "datum.value === 0 || datum.value === 1000 || datum.value === 10000 || datum.value === 100000", "value": 5}, "value": 2.5}, "labelFont": "DejaVu Sans", "labelFontWeight": "normal", "labelFontSize": 7.5, "labelColor": "#333", "labelPadding": 2, "labelOverlap": false, "labelFlush": false, "titleFont": "DejaVu Sans", "titleFontWeight": "normal", "titleFontSize": 7.5, "titleColor": "#333", "titlePadding": 1}},
   "y": {"field": "count", "type": "quantitative", "title": null, "scale": {"domain": [0, 223], "nice": false}, "axis": {"values": [56, 112, 167, 223], "domain": false, "tickColor": "#555", "tickWidth": 0.8, "tickSize": 3, "labelFont": "DejaVu Sans", "labelFontWeight": "normal", "labelFontSize": 7.5, "labelColor": "#333", "labelPadding": 10, "labelFlush": false, "labelOverlap": false}},
   "color": {"field": "series", "type": "nominal", "scale": {"domain": ["Isotype", "Vehicle", "CDDO-Me"], "range": ["#000000", "#1212e2", "#ec0c12"]}, "legend": null}
  }},
 {"bounds": "flush", "spacing": 84, "hconcat": [
  {"width": 161, "height": 148, "title": {"text": "CD163", "offset": -18.5}, "data": {"name": "bars"}, "transform": [{"filter": "datum.panel == 'A_CD163_MFI'"}],
   "encoding": {"x": {"field": "group", "type": "nominal", "sort": ["Vehicle", "CDDO-Me"], "scale": {"paddingInner": 0.35, "paddingOuter": 0.1}, "axis": {"title": null, "labelAngle": 0, "tickSize": 3, "tickWidth": 1, "labelPadding": 2}},
    "y": {"field": "value", "type": "quantitative", "title": "MFI", "scale": {"domain": [0, 15250], "range": [148, 41], "nice": false, "zero": false}, "axis": {"values": [0, 3050, 6100, 9150, 12200, 15250], "format": "d", "titlePadding": 10}}},
   "layer": [
    {"mark": "bar", "encoding": {"color": {"field": "group", "type": "nominal", "scale": {"domain": ["Isotype", "Vehicle", "CDDO-Me"], "range": ["#000000", "#1212e2", "#ec0c12"]}, "legend": null}}},
    {"mark": "rule", "encoding": {"y2": {"field": "upper"}}},
    {"mark": {"type": "tick", "size": 12}, "encoding": {"y": {"field": "upper", "type": "quantitative", "title": "MFI", "scale": {"domain": [0, 15250], "range": [148, 41], "nice": false, "zero": false}}}},
    {"transform": [{"filter": "datum.sig == 'n.s.'"}], "mark": {"type": "text", "fontSize": 10.5, "color": "#222", "baseline": "alphabetic", "dy": -4}, "encoding": {"y": {"field": "upper", "type": "quantitative", "title": "MFI", "scale": {"domain": [0, 15250], "range": [148, 41], "nice": false, "zero": false}}, "text": {"field": "sig"}}},
    {"transform": [{"filter": "datum.sig != 'n.s.' && datum.sig != ''"}], "mark": {"type": "text", "fontWeight": "bold", "fontSize": 17, "color": "black", "baseline": "alphabetic", "dy": 1}, "encoding": {"y": {"field": "upper", "type": "quantitative", "title": "MFI", "scale": {"domain": [0, 15250], "range": [148, 41], "nice": false, "zero": false}}, "text": {"field": "sig"}}}
   ]},
  {"width": 169, "height": 148, "title": {"text": "% CD163 Positive", "offset": -24.5}, "data": {"name": "bars"}, "transform": [{"filter": "datum.panel == 'A_CD163_PCT'"}],
   "encoding": {"x": {"field": "group", "type": "nominal", "sort": ["Vehicle", "CDDO-Me"], "scale": {"paddingInner": 0.34, "paddingOuter": 0.15}, "axis": {"title": null, "labelAngle": 0, "tickSize": 3, "tickWidth": 1, "labelPadding": 2}},
    "y": {"field": "value", "type": "quantitative", "title": null, "scale": {"domain": [80, 100], "range": [148, 50], "nice": false, "zero": false}, "axis": {"values": [80, 85, 90, 95, 100], "format": "d"}}},
   "layer": [
    {"mark": "bar", "encoding": {"y2": {"datum": 80}, "color": {"field": "group", "type": "nominal", "scale": {"domain": ["Isotype", "Vehicle", "CDDO-Me"], "range": ["#000000", "#1212e2", "#ec0c12"]}, "legend": null}}},
    {"mark": "rule", "encoding": {"y2": {"field": "upper"}}},
    {"mark": {"type": "tick", "size": 12}, "encoding": {"y": {"field": "upper", "type": "quantitative", "title": null, "scale": {"domain": [80, 100], "range": [148, 50], "nice": false, "zero": false}}}},
    {"transform": [{"filter": "datum.sig == 'n.s.'"}], "mark": {"type": "text", "fontSize": 10.5, "color": "#222", "baseline": "alphabetic", "dy": -4}, "encoding": {"y": {"field": "upper", "type": "quantitative", "title": null, "scale": {"domain": [80, 100], "range": [148, 50], "nice": false, "zero": false}}, "text": {"field": "sig"}}},
    {"transform": [{"filter": "datum.sig != 'n.s.' && datum.sig != ''"}], "mark": {"type": "text", "fontWeight": "bold", "fontSize": 17, "color": "black", "baseline": "alphabetic", "dy": 1}, "encoding": {"y": {"field": "upper", "type": "quantitative", "title": null, "scale": {"domain": [80, 100], "range": [148, 50], "nice": false, "zero": false}}, "text": {"field": "sig"}}}
   ]}
 ]}
]},
{"bounds": "flush", "spacing": 101, "hconcat": [
 {"width": 174, "height": 146, "view": {"stroke": "#8c8c8c"}, "data": {"name": "h3"}, "mark": "line",
  "encoding": {
   "x": {"field": "fluor", "type": "quantitative", "title": "CD14", "scale": {"type": "symlog", "constant": 150, "domain": [-230, 450000], "nice": false, "zero": false}, "axis": {"values": [-200,-100,0,100,200,300,400,500,600,700,800,900,1000,2000,3000,4000,5000,6000,7000,8000,9000,10000,20000,30000,40000,50000,60000,70000,80000,90000,100000,200000,300000,400000], "labelExpr": "datum.value === 0 ? '0' : datum.value === 1000 ? '10³' : datum.value === 10000 ? '10⁴' : datum.value === 100000 ? '10⁵' : ''", "domain": false, "tickColor": "#555", "tickWidth": 0.8, "tickSize": {"condition": {"test": "datum.value === 0 || datum.value === 1000 || datum.value === 10000 || datum.value === 100000", "value": 5}, "value": 2.5}, "labelFont": "DejaVu Sans", "labelFontWeight": "normal", "labelFontSize": 7.5, "labelColor": "#333", "labelPadding": 2, "labelOverlap": false, "labelFlush": false, "titleFont": "DejaVu Sans", "titleFontWeight": "normal", "titleFontSize": 7.5, "titleColor": "#333", "titlePadding": 1}},
   "y": {"field": "count", "type": "quantitative", "title": null, "scale": {"domain": [0, 127], "nice": false}, "axis": {"values": [32, 64, 95, 127], "domain": false, "tickColor": "#555", "tickWidth": 0.8, "tickSize": 3, "labelFont": "DejaVu Sans", "labelFontWeight": "normal", "labelFontSize": 7.5, "labelColor": "#333", "labelPadding": 10, "labelFlush": false, "labelOverlap": false}},
   "color": {"field": "series", "type": "nominal", "scale": {"domain": ["Isotype", "Vehicle", "CDDO-Me"], "range": ["#000000", "#1212e2", "#ec0c12"]}, "legend": null}
  }},
 {"bounds": "flush", "spacing": 83, "hconcat": [
  {"width": 162, "height": 148, "title": {"text": "CD14", "offset": -18.5}, "data": {"name": "bars"}, "transform": [{"filter": "datum.panel == 'A_CD14_MFI'"}],
   "encoding": {"x": {"field": "group", "type": "nominal", "sort": ["Vehicle", "CDDO-Me"], "scale": {"paddingInner": 0.35, "paddingOuter": 0.1}, "axis": {"title": null, "labelAngle": 0, "tickSize": 3, "tickWidth": 1, "labelPadding": 2}},
    "y": {"field": "value", "type": "quantitative", "title": "MFI", "scale": {"domain": [0, 17500], "range": [148, 41], "nice": false, "zero": false}, "axis": {"values": [0, 2500, 5000, 7500, 10000, 12500, 15000, 17500], "format": "d", "titlePadding": 10}}},
   "layer": [
    {"mark": "bar", "encoding": {"color": {"field": "group", "type": "nominal", "scale": {"domain": ["Isotype", "Vehicle", "CDDO-Me"], "range": ["#000000", "#1212e2", "#ec0c12"]}, "legend": null}}},
    {"mark": "rule", "encoding": {"y2": {"field": "upper"}}},
    {"mark": {"type": "tick", "size": 12}, "encoding": {"y": {"field": "upper", "type": "quantitative", "title": "MFI", "scale": {"domain": [0, 17500], "range": [148, 41], "nice": false, "zero": false}}}},
    {"transform": [{"filter": "datum.sig == 'n.s.'"}], "mark": {"type": "text", "fontSize": 10.5, "color": "#222", "baseline": "alphabetic", "dy": -4}, "encoding": {"y": {"field": "upper", "type": "quantitative", "title": "MFI", "scale": {"domain": [0, 17500], "range": [148, 41], "nice": false, "zero": false}}, "text": {"field": "sig"}}},
    {"transform": [{"filter": "datum.sig != 'n.s.' && datum.sig != ''"}], "mark": {"type": "text", "fontWeight": "bold", "fontSize": 17, "color": "black", "baseline": "alphabetic", "dy": 1}, "encoding": {"y": {"field": "upper", "type": "quantitative", "title": "MFI", "scale": {"domain": [0, 17500], "range": [148, 41], "nice": false, "zero": false}}, "text": {"field": "sig"}}}
   ]},
  {"width": 169, "height": 148, "title": {"text": "% CD14 Positive", "offset": -18.5}, "data": {"name": "bars"}, "transform": [{"filter": "datum.panel == 'A_CD14_PCT'"}],
   "encoding": {"x": {"field": "group", "type": "nominal", "sort": ["Vehicle", "CDDO-Me"], "scale": {"paddingInner": 0.34, "paddingOuter": 0.15}, "axis": {"title": null, "labelAngle": 0, "tickSize": 3, "tickWidth": 1, "labelPadding": 2}},
    "y": {"field": "value", "type": "quantitative", "title": null, "scale": {"domain": [80, 100], "range": [148, 49], "nice": false, "zero": false}, "axis": {"values": [80, 85, 90, 95, 100], "format": "d"}}},
   "layer": [
    {"mark": "bar", "encoding": {"y2": {"datum": 80}, "color": {"field": "group", "type": "nominal", "scale": {"domain": ["Isotype", "Vehicle", "CDDO-Me"], "range": ["#000000", "#1212e2", "#ec0c12"]}, "legend": null}}},
    {"mark": "rule", "encoding": {"y2": {"field": "upper"}}},
    {"mark": {"type": "tick", "size": 12}, "encoding": {"y": {"field": "upper", "type": "quantitative", "title": null, "scale": {"domain": [80, 100], "range": [148, 49], "nice": false, "zero": false}}}},
    {"transform": [{"filter": "datum.sig == 'n.s.'"}], "mark": {"type": "text", "fontSize": 10.5, "color": "#222", "baseline": "alphabetic", "dy": -4}, "encoding": {"y": {"field": "upper", "type": "quantitative", "title": null, "scale": {"domain": [80, 100], "range": [148, 49], "nice": false, "zero": false}}, "text": {"field": "sig"}}},
    {"transform": [{"filter": "datum.sig != 'n.s.' && datum.sig != ''"}], "mark": {"type": "text", "fontWeight": "bold", "fontSize": 17, "color": "black", "baseline": "alphabetic", "dy": 1}, "encoding": {"y": {"field": "upper", "type": "quantitative", "title": null, "scale": {"domain": [80, 100], "range": [148, 49], "nice": false, "zero": false}}, "text": {"field": "sig"}}}
   ]}
 ]}
]},
{"bounds": "flush", "spacing": 107, "hconcat": [
 {"width": 168, "height": 142, "view": {"stroke": "#8c8c8c"}, "data": {"name": "h4"}, "mark": "line",
  "encoding": {
   "x": {"field": "fluor", "type": "quantitative", "title": "CD80", "scale": {"type": "symlog", "constant": 150, "domain": [-230, 450000], "nice": false, "zero": false}, "axis": {"values": [-200,-100,0,100,200,300,400,500,600,700,800,900,1000,2000,3000,4000,5000,6000,7000,8000,9000,10000,20000,30000,40000,50000,60000,70000,80000,90000,100000,200000,300000,400000], "labelExpr": "datum.value === 0 ? '0' : datum.value === 1000 ? '10³' : datum.value === 10000 ? '10⁴' : datum.value === 100000 ? '10⁵' : ''", "domain": false, "tickColor": "#555", "tickWidth": 0.8, "tickSize": {"condition": {"test": "datum.value === 0 || datum.value === 1000 || datum.value === 10000 || datum.value === 100000", "value": 5}, "value": 2.5}, "labelFont": "DejaVu Sans", "labelFontWeight": "normal", "labelFontSize": 7.5, "labelColor": "#333", "labelPadding": 2, "labelOverlap": false, "labelFlush": false, "titleFont": "DejaVu Sans", "titleFontWeight": "normal", "titleFontSize": 7.5, "titleColor": "#333", "titlePadding": 1}},
   "y": {"field": "count", "type": "quantitative", "title": null, "scale": {"domain": [0, 354], "nice": false}, "axis": {"values": [88, 177, 266, 354], "domain": false, "tickColor": "#555", "tickWidth": 0.8, "tickSize": 3, "labelFont": "DejaVu Sans", "labelFontWeight": "normal", "labelFontSize": 7.5, "labelColor": "#333", "labelPadding": 10, "labelFlush": false, "labelOverlap": false}},
   "color": {"field": "series", "type": "nominal", "scale": {"domain": ["Isotype", "Vehicle", "CDDO-Me"], "range": ["#000000", "#1212e2", "#ec0c12"]}, "legend": null}
  }},
 {"bounds": "flush", "spacing": 83, "hconcat": [
  {"width": 162, "height": 142, "title": {"text": "CD80", "offset": -14.5}, "data": {"name": "bars"}, "transform": [{"filter": "datum.panel == 'A_CD80_MFI'"}],
   "encoding": {"x": {"field": "group", "type": "nominal", "sort": ["Vehicle", "CDDO-Me"], "scale": {"paddingInner": 0.35, "paddingOuter": 0.1}, "axis": {"title": null, "labelAngle": 0, "tickSize": 3, "tickWidth": 1, "labelPadding": 2}},
    "y": {"field": "value", "type": "quantitative", "title": "MFI", "scale": {"domain": [0, 4000], "range": [142, 37], "nice": false, "zero": false}, "axis": {"values": [0, 1000, 2000, 3000, 4000], "format": "d", "titlePadding": 10}}},
   "layer": [
    {"mark": "bar", "encoding": {"color": {"field": "group", "type": "nominal", "scale": {"domain": ["Isotype", "Vehicle", "CDDO-Me"], "range": ["#000000", "#1212e2", "#ec0c12"]}, "legend": null}}},
    {"mark": "rule", "encoding": {"y2": {"field": "upper"}}},
    {"mark": {"type": "tick", "size": 12}, "encoding": {"y": {"field": "upper", "type": "quantitative", "title": "MFI", "scale": {"domain": [0, 4000], "range": [142, 37], "nice": false, "zero": false}}}},
    {"transform": [{"filter": "datum.sig == 'n.s.'"}], "mark": {"type": "text", "fontSize": 10.5, "color": "#222", "baseline": "alphabetic", "dy": -4}, "encoding": {"y": {"field": "upper", "type": "quantitative", "title": "MFI", "scale": {"domain": [0, 4000], "range": [142, 37], "nice": false, "zero": false}}, "text": {"field": "sig"}}},
    {"transform": [{"filter": "datum.sig != 'n.s.' && datum.sig != ''"}], "mark": {"type": "text", "fontWeight": "bold", "fontSize": 17, "color": "black", "baseline": "alphabetic", "dy": 1}, "encoding": {"y": {"field": "upper", "type": "quantitative", "title": "MFI", "scale": {"domain": [0, 4000], "range": [142, 37], "nice": false, "zero": false}}, "text": {"field": "sig"}}}
   ]},
  {"width": 169, "height": 142, "title": {"text": "% CD80 Positive", "offset": -13.5}, "data": {"name": "bars"}, "transform": [{"filter": "datum.panel == 'A_CD80_PCT'"}],
   "encoding": {"x": {"field": "group", "type": "nominal", "sort": ["Vehicle", "CDDO-Me"], "scale": {"paddingInner": 0.34, "paddingOuter": 0.15}, "axis": {"title": null, "labelAngle": 0, "tickSize": 3, "tickWidth": 1, "labelPadding": 2}},
    "y": {"field": "value", "type": "quantitative", "title": null, "scale": {"domain": [80, 100], "range": [142, 37], "nice": false, "zero": false}, "axis": {"values": [80, 85, 90, 95, 100], "format": "d"}}},
   "layer": [
    {"mark": "bar", "encoding": {"y2": {"datum": 80}, "color": {"field": "group", "type": "nominal", "scale": {"domain": ["Isotype", "Vehicle", "CDDO-Me"], "range": ["#000000", "#1212e2", "#ec0c12"]}, "legend": null}}},
    {"mark": "rule", "encoding": {"y2": {"field": "upper"}}},
    {"mark": {"type": "tick", "size": 12}, "encoding": {"y": {"field": "upper", "type": "quantitative", "title": null, "scale": {"domain": [80, 100], "range": [142, 37], "nice": false, "zero": false}}}}
   ]}
 ]}
]},
{"bounds": "flush", "spacing": 107, "hconcat": [
 {"width": 167, "height": 142, "view": {"stroke": "#8c8c8c"}, "data": {"name": "h5"}, "mark": "line",
  "encoding": {
   "x": {"field": "fluor", "type": "quantitative", "title": "ClassII", "scale": {"type": "symlog", "constant": 150, "domain": [-230, 450000], "nice": false, "zero": false}, "axis": {"values": [-200,-100,0,100,200,300,400,500,600,700,800,900,1000,2000,3000,4000,5000,6000,7000,8000,9000,10000,20000,30000,40000,50000,60000,70000,80000,90000,100000,200000,300000,400000], "labelExpr": "datum.value === 0 ? '0' : datum.value === 1000 ? '10³' : datum.value === 10000 ? '10⁴' : datum.value === 100000 ? '10⁵' : ''", "domain": false, "tickColor": "#555", "tickWidth": 0.8, "tickSize": {"condition": {"test": "datum.value === 0 || datum.value === 1000 || datum.value === 10000 || datum.value === 100000", "value": 5}, "value": 2.5}, "labelFont": "DejaVu Sans", "labelFontWeight": "normal", "labelFontSize": 7.5, "labelColor": "#333", "labelPadding": 2, "labelOverlap": false, "labelFlush": false, "titleFont": "DejaVu Sans", "titleFontWeight": "normal", "titleFontSize": 7.5, "titleColor": "#333", "titlePadding": 1}},
   "y": {"field": "count", "type": "quantitative", "title": null, "scale": {"domain": [0, 216], "nice": false}, "axis": {"values": [54, 108, 162, 216], "domain": false, "tickColor": "#555", "tickWidth": 0.8, "tickSize": 3, "labelFont": "DejaVu Sans", "labelFontWeight": "normal", "labelFontSize": 7.5, "labelColor": "#333", "labelPadding": 10, "labelFlush": false, "labelOverlap": false}},
   "color": {"field": "series", "type": "nominal", "scale": {"domain": ["Isotype", "Vehicle", "CDDO-Me"], "range": ["#000000", "#1212e2", "#ec0c12"]}, "legend": null}
  }},
 {"bounds": "flush", "spacing": 85, "hconcat": [
  {"width": 161, "height": 143, "title": {"text": "Class II", "offset": -15.5}, "data": {"name": "bars"}, "transform": [{"filter": "datum.panel == 'A_ClassII_MFI'"}],
   "encoding": {"x": {"field": "group", "type": "nominal", "sort": ["Vehicle", "CDDO-Me"], "scale": {"paddingInner": 0.35, "paddingOuter": 0.1}, "axis": {"title": null, "labelAngle": 0, "tickSize": 3, "tickWidth": 1, "labelPadding": 2}},
    "y": {"field": "value", "type": "quantitative", "title": "MFI", "scale": {"domain": [0, 80000], "range": [143, 37], "nice": false, "zero": false}, "axis": {"values": [0, 20000, 40000, 60000, 80000], "format": "d", "titlePadding": 10}}},
   "layer": [
    {"mark": "bar", "encoding": {"color": {"field": "group", "type": "nominal", "scale": {"domain": ["Isotype", "Vehicle", "CDDO-Me"], "range": ["#000000", "#1212e2", "#ec0c12"]}, "legend": null}}},
    {"mark": "rule", "encoding": {"y2": {"field": "upper"}}},
    {"mark": {"type": "tick", "size": 12}, "encoding": {"y": {"field": "upper", "type": "quantitative", "title": "MFI", "scale": {"domain": [0, 80000], "range": [143, 37], "nice": false, "zero": false}}}},
    {"transform": [{"filter": "datum.sig == 'n.s.'"}], "mark": {"type": "text", "fontSize": 10.5, "color": "#222", "baseline": "alphabetic", "dy": -4}, "encoding": {"y": {"field": "upper", "type": "quantitative", "title": "MFI", "scale": {"domain": [0, 80000], "range": [143, 37], "nice": false, "zero": false}}, "text": {"field": "sig"}}},
    {"transform": [{"filter": "datum.sig != 'n.s.' && datum.sig != ''"}], "mark": {"type": "text", "fontWeight": "bold", "fontSize": 17, "color": "black", "baseline": "alphabetic", "dy": 1}, "encoding": {"y": {"field": "upper", "type": "quantitative", "title": "MFI", "scale": {"domain": [0, 80000], "range": [143, 37], "nice": false, "zero": false}}, "text": {"field": "sig"}}}
   ]},
  {"width": 169, "height": 143, "title": {"text": "% Class II Positive", "offset": -16.5}, "data": {"name": "bars"}, "transform": [{"filter": "datum.panel == 'A_ClassII_PCT'"}],
   "encoding": {"x": {"field": "group", "type": "nominal", "sort": ["Vehicle", "CDDO-Me"], "scale": {"paddingInner": 0.34, "paddingOuter": 0.15}, "axis": {"title": null, "labelAngle": 0, "tickSize": 3, "tickWidth": 1, "labelPadding": 2}},
    "y": {"field": "value", "type": "quantitative", "title": null, "scale": {"domain": [80, 100], "range": [143, 37], "nice": false, "zero": false}, "axis": {"values": [80, 85, 90, 95, 100], "format": "d"}}},
   "layer": [
    {"mark": "bar", "encoding": {"y2": {"datum": 80}, "color": {"field": "group", "type": "nominal", "scale": {"domain": ["Isotype", "Vehicle", "CDDO-Me"], "range": ["#000000", "#1212e2", "#ec0c12"]}, "legend": null}}},
    {"mark": "rule", "encoding": {"y2": {"field": "upper"}}},
    {"mark": {"type": "tick", "size": 12}, "encoding": {"y": {"field": "upper", "type": "quantitative", "title": null, "scale": {"domain": [80, 100], "range": [143, 37], "nice": false, "zero": false}}}},
    {"transform": [{"filter": "datum.sig == 'n.s.'"}], "mark": {"type": "text", "fontSize": 10.5, "color": "#222", "baseline": "alphabetic", "dy": -4}, "encoding": {"y": {"field": "upper", "type": "quantitative", "title": null, "scale": {"domain": [80, 100], "range": [143, 37], "nice": false, "zero": false}}, "text": {"field": "sig"}}}
   ]}
 ]}
]}
]
},
{
"title": {"text": "B", "anchor": "start", "frame": "group", "dx": -47, "offset": 0, "fontSize": 27, "font": "Liberation Sans", "fontWeight": "bold"},
"bounds": "flush",
"spacing": 184,
"vconcat": [
{"bounds": "flush", "spacing": 108, "hconcat": [
 {"width": 167, "height": 142, "view": {"stroke": "#8c8c8c"}, "data": {"name": "h6"}, "mark": "line",
  "encoding": {
   "x": {"field": "fluor", "type": "quantitative", "title": "CD206", "scale": {"type": "symlog", "constant": 150, "domain": [-230, 450000], "nice": false, "zero": false}, "axis": {"values": [-200,-100,0,100,200,300,400,500,600,700,800,900,1000,2000,3000,4000,5000,6000,7000,8000,9000,10000,20000,30000,40000,50000,60000,70000,80000,90000,100000,200000,300000,400000], "labelExpr": "datum.value === 0 ? '0' : datum.value === 1000 ? '10³' : datum.value === 10000 ? '10⁴' : datum.value === 100000 ? '10⁵' : ''", "domain": false, "tickColor": "#555", "tickWidth": 0.8, "tickSize": {"condition": {"test": "datum.value === 0 || datum.value === 1000 || datum.value === 10000 || datum.value === 100000", "value": 5}, "value": 2.5}, "labelFont": "DejaVu Sans", "labelFontWeight": "normal", "labelFontSize": 7.5, "labelColor": "#333", "labelPadding": 2, "labelOverlap": false, "labelFlush": false, "titleFont": "DejaVu Sans", "titleFontWeight": "normal", "titleFontSize": 7.5, "titleColor": "#333", "titlePadding": 1}},
   "y": {"field": "count", "type": "quantitative", "title": null, "scale": {"domain": [0, 392], "nice": false}, "axis": {"values": [98, 196, 294, 392], "domain": false, "tickColor": "#555", "tickWidth": 0.8, "tickSize": 3, "labelFont": "DejaVu Sans", "labelFontWeight": "normal", "labelFontSize": 7.5, "labelColor": "#333", "labelPadding": 10, "labelFlush": false, "labelOverlap": false}},
   "color": {"field": "series", "type": "nominal", "scale": {"domain": ["Isotype", "Vehicle", "CDDO-Me"], "range": ["#000000", "#1212e2", "#ec0c12"]}, "legend": null}
  }},
 {"bounds": "flush", "spacing": 82, "hconcat": [
  {"width": 163, "height": 134, "title": {"text": "CD206", "offset": 14.5}, "data": {"name": "bars"}, "transform": [{"filter": "datum.panel == 'B_CD206_MFI'"}],
   "encoding": {"x": {"field": "group", "type": "nominal", "sort": ["Vehicle", "CDDO-Me"], "scale": {"paddingInner": 0.35, "paddingOuter": 0.1}, "axis": {"title": null, "labelAngle": 0, "tickSize": 3, "tickWidth": 1, "labelPadding": 2}},
    "y": {"field": "value", "type": "quantitative", "title": "MFI", "scale": {"domain": [0, 3250], "range": [134, 11], "nice": false, "zero": false}, "axis": {"values": [0, 650, 1300, 1950, 2600, 3250], "format": "d", "titlePadding": 10}}},
   "layer": [
    {"mark": "bar", "encoding": {"color": {"field": "group", "type": "nominal", "scale": {"domain": ["Isotype", "Vehicle", "CDDO-Me"], "range": ["#000000", "#1212e2", "#ec0c12"]}, "legend": null}}},
    {"mark": "rule", "encoding": {"y2": {"field": "upper"}}},
    {"mark": {"type": "tick", "size": 12}, "encoding": {"y": {"field": "upper", "type": "quantitative", "title": "MFI", "scale": {"domain": [0, 3250], "range": [134, 11], "nice": false, "zero": false}}}},
    {"transform": [{"filter": "datum.sig != 'n.s.' && datum.sig != ''"}], "mark": {"type": "text", "fontWeight": "bold", "fontSize": 17, "color": "black", "baseline": "alphabetic", "dy": 1}, "encoding": {"y": {"field": "upper", "type": "quantitative", "title": "MFI", "scale": {"domain": [0, 3250], "range": [134, 11], "nice": false, "zero": false}}, "text": {"field": "sig"}}}
   ]},
  {"width": 169, "height": 135, "title": {"text": "% CD206 Positive", "offset": 14.5}, "data": {"name": "bars"}, "transform": [{"filter": "datum.panel == 'B_CD206_PCT'"}],
   "encoding": {"x": {"field": "group", "type": "nominal", "sort": ["Vehicle", "CDDO-Me"], "scale": {"paddingInner": 0.34, "paddingOuter": 0.15}, "axis": {"title": null, "labelAngle": 0, "tickSize": 3, "tickWidth": 1, "labelPadding": 2}},
    "y": {"field": "value", "type": "quantitative", "title": null, "scale": {"domain": [80, 100], "range": [135, 11], "nice": false, "zero": false}, "axis": {"values": [80, 85, 90, 95, 100], "format": "d"}}},
   "layer": [
    {"mark": "bar", "encoding": {"y2": {"datum": 80}, "color": {"field": "group", "type": "nominal", "scale": {"domain": ["Isotype", "Vehicle", "CDDO-Me"], "range": ["#000000", "#1212e2", "#ec0c12"]}, "legend": null}}},
    {"mark": "rule", "encoding": {"y2": {"field": "upper"}}},
    {"mark": {"type": "tick", "size": 12}, "encoding": {"y": {"field": "upper", "type": "quantitative", "title": null, "scale": {"domain": [80, 100], "range": [135, 11], "nice": false, "zero": false}}}},
    {"transform": [{"filter": "datum.sig != 'n.s.' && datum.sig != ''"}], "mark": {"type": "text", "fontWeight": "bold", "fontSize": 17, "color": "black", "baseline": "alphabetic", "dy": 1}, "encoding": {"y": {"field": "upper", "type": "quantitative", "title": null, "scale": {"domain": [80, 100], "range": [135, 11], "nice": false, "zero": false}}, "text": {"field": "sig"}}}
   ]}
 ]}
]},
{"bounds": "flush", "spacing": 99, "hconcat": [
 {"width": 167, "height": 140, "view": {"stroke": "#8c8c8c"}, "data": {"name": "h7"}, "mark": "line",
  "encoding": {
   "x": {"field": "fluor", "type": "quantitative", "title": "CD80", "scale": {"type": "symlog", "constant": 150, "domain": [-230, 450000], "nice": false, "zero": false}, "axis": {"values": [-200,-100,0,100,200,300,400,500,600,700,800,900,1000,2000,3000,4000,5000,6000,7000,8000,9000,10000,20000,30000,40000,50000,60000,70000,80000,90000,100000,200000,300000,400000], "labelExpr": "datum.value === 0 ? '0' : datum.value === 1000 ? '10³' : datum.value === 10000 ? '10⁴' : datum.value === 100000 ? '10⁵' : ''", "domain": false, "tickColor": "#555", "tickWidth": 0.8, "tickSize": {"condition": {"test": "datum.value === 0 || datum.value === 1000 || datum.value === 10000 || datum.value === 100000", "value": 5}, "value": 2.5}, "labelFont": "DejaVu Sans", "labelFontWeight": "normal", "labelFontSize": 7.5, "labelColor": "#333", "labelPadding": 2, "labelOverlap": false, "labelFlush": false, "titleFont": "DejaVu Sans", "titleFontWeight": "normal", "titleFontSize": 7.5, "titleColor": "#333", "titlePadding": 1}},
   "y": {"field": "count", "type": "quantitative", "title": null, "scale": {"domain": [0, 351], "nice": false}, "axis": {"values": [88, 176, 263, 351], "domain": false, "tickColor": "#555", "tickWidth": 0.8, "tickSize": 3, "labelFont": "DejaVu Sans", "labelFontWeight": "normal", "labelFontSize": 7.5, "labelColor": "#333", "labelPadding": 10, "labelFlush": false, "labelOverlap": false}},
   "color": {"field": "series", "type": "nominal", "scale": {"domain": ["Isotype", "Vehicle", "CDDO-Me"], "range": ["#000000", "#1212e2", "#ec0c12"]}, "legend": null}
  }},
 {"bounds": "flush", "spacing": 72, "hconcat": [
  {"width": 182, "height": 139, "title": {"text": "CD80", "offset": 6.5}, "data": {"name": "bars"}, "transform": [{"filter": "datum.panel == 'B_CD80_MFI'"}],
   "encoding": {"x": {"field": "group", "type": "nominal", "sort": ["Vehicle", "CDDO-Me"], "scale": {"paddingInner": 0.33, "paddingOuter": 0.17}, "axis": {"title": null, "labelAngle": 0, "tickSize": 3, "tickWidth": 1, "labelPadding": 2}},
    "y": {"field": "value", "type": "quantitative", "title": "MFI", "scale": {"domain": [0, 10000], "range": [139, 17], "nice": false, "zero": false}, "axis": {"values": [0, 2000, 4000, 6000, 8000, 10000], "format": "d", "titlePadding": 10}}},
   "layer": [
    {"mark": "bar", "encoding": {"color": {"field": "group", "type": "nominal", "scale": {"domain": ["Isotype", "Vehicle", "CDDO-Me"], "range": ["#000000", "#1212e2", "#ec0c12"]}, "legend": null}}},
    {"mark": "rule", "encoding": {"y2": {"field": "upper"}}},
    {"mark": {"type": "tick", "size": 12}, "encoding": {"y": {"field": "upper", "type": "quantitative", "title": "MFI", "scale": {"domain": [0, 10000], "range": [139, 17], "nice": false, "zero": false}}}},
    {"transform": [{"filter": "datum.sig != 'n.s.' && datum.sig != ''"}], "mark": {"type": "text", "fontWeight": "bold", "fontSize": 17, "color": "black", "baseline": "alphabetic", "dy": 1}, "encoding": {"y": {"field": "upper", "type": "quantitative", "title": "MFI", "scale": {"domain": [0, 10000], "range": [139, 17], "nice": false, "zero": false}}, "text": {"field": "sig"}}}
   ]},
  {"width": 170, "height": 138, "title": {"text": "% CD80 Positive", "offset": 6.5}, "data": {"name": "bars"}, "transform": [{"filter": "datum.panel == 'B_CD80_PCT'"}],
   "encoding": {"x": {"field": "group", "type": "nominal", "sort": ["Vehicle", "CDDO-Me"], "scale": {"paddingInner": 0.34, "paddingOuter": 0.15}, "axis": {"title": null, "labelAngle": 0, "tickSize": 3, "tickWidth": 1, "labelPadding": 2}},
    "y": {"field": "value", "type": "quantitative", "title": null, "scale": {"domain": [80, 100], "range": [138, 31], "nice": false, "zero": false}, "axis": {"values": [80, 85, 90, 95, 100], "format": "d"}}},
   "layer": [
    {"mark": "bar", "encoding": {"y2": {"datum": 80}, "color": {"field": "group", "type": "nominal", "scale": {"domain": ["Isotype", "Vehicle", "CDDO-Me"], "range": ["#000000", "#1212e2", "#ec0c12"]}, "legend": null}}},
    {"mark": "rule", "encoding": {"y2": {"field": "upper"}}},
    {"mark": {"type": "tick", "size": 12}, "encoding": {"y": {"field": "upper", "type": "quantitative", "title": null, "scale": {"domain": [80, 100], "range": [138, 31], "nice": false, "zero": false}}}},
    {"transform": [{"filter": "datum.sig == 'n.s.'"}], "mark": {"type": "text", "fontSize": 10.5, "color": "#222", "baseline": "alphabetic", "dy": -4}, "encoding": {"y": {"field": "upper", "type": "quantitative", "title": null, "scale": {"domain": [80, 100], "range": [138, 31], "nice": false, "zero": false}}, "text": {"field": "sig"}}}
   ]}
 ]}
]}
]
}
]
}
